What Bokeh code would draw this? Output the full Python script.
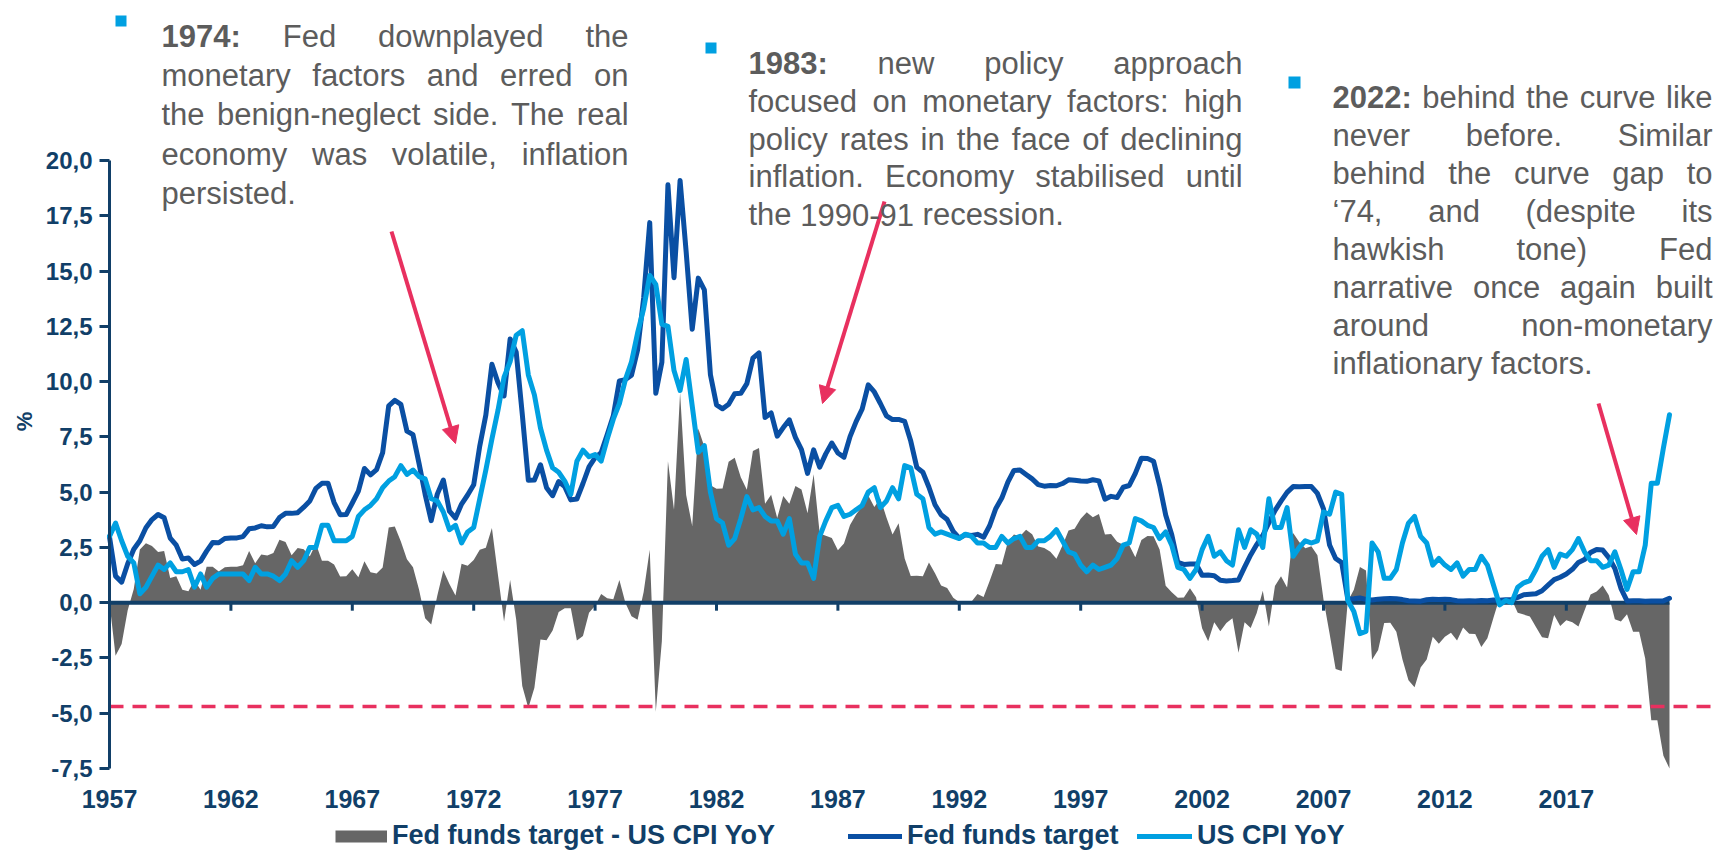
import numpy as np
from bokeh.plotting import figure
from bokeh.models import (Range1d, FixedTicker, Label, Arrow, NormalHead,
                          Legend, LegendItem, BoxAnnotation)
from bokeh.core.properties import value
from bokeh.embed import file_html
from bokeh.resources import INLINE

first_x = 1957.0          # axis position of the first observation
step_x = 0.25             # quarterly

fed_funds = [
    2.98,
    1.20, 0.93, 1.76, 2.42,   2.80, 3.39, 3.76, 3.99,   3.84, 2.92, 2.60, 1.98,
    2.02, 1.73, 1.88, 2.33,   2.72, 2.71, 2.90, 2.93,   2.93, 2.99, 3.34, 3.38,
    3.48, 3.43, 3.45, 3.85,   4.04, 4.04, 4.07, 4.32,   4.60, 5.17, 5.40, 5.40,
    4.53, 3.98, 3.99, 4.51,   5.05, 6.07, 5.78, 6.02,   6.79, 8.90, 9.15, 8.97,
    7.76, 7.60, 6.29, 4.90,   3.71, 4.91, 5.55, 4.14,   3.83, 4.46, 4.87, 5.33,
    7.09, 8.49, 10.78, 9.95,  9.35, 11.93, 11.34, 8.53, 5.54, 5.55, 6.24, 5.20,
    4.84, 5.48, 5.25, 4.65,   4.69, 5.39, 6.14, 6.56,   6.79, 7.60, 8.45, 10.03,
    10.09, 10.29, 11.43, 13.78, 17.19, 9.47, 10.87, 18.90, 14.70, 19.10, 15.87, 12.37,
    14.68, 14.15, 10.31, 8.95, 8.77, 8.98, 9.45, 9.47,  9.91, 11.06, 11.30, 8.38,
    8.58, 7.53, 7.92, 8.27,   7.48, 6.92, 5.85, 6.91,   6.13, 6.73, 7.22, 6.77,
    6.58, 7.51, 8.19, 8.76,   9.85, 9.53, 9.01, 8.45,   8.28, 8.29, 8.20, 7.31,
    6.12, 5.90, 5.22, 4.43,   3.98, 3.76, 3.22, 2.92,   3.07, 3.04, 3.09, 2.96,
    3.48, 4.25, 4.73, 5.45,   5.98, 6.00, 5.80, 5.60,   5.34, 5.27, 5.30, 5.29,
    5.39, 5.56, 5.54, 5.50,   5.49, 5.56, 5.51, 4.68,   4.81, 4.76, 5.22, 5.30,
    5.85, 6.53, 6.52, 6.40,   5.31, 3.97, 3.07, 1.82,   1.73, 1.75, 1.75, 1.24,
    1.25, 1.22, 1.01, 0.98,   1.00, 1.03, 1.61, 2.16,   2.63, 3.04, 3.62, 4.16,
    4.59, 4.99, 5.25, 5.24,   5.26, 5.25, 4.94, 4.24,   2.61, 2.00, 1.81, 0.16,
    0.18, 0.21, 0.15, 0.12,   0.16, 0.18, 0.19, 0.18,   0.14, 0.09, 0.08, 0.07,
    0.13, 0.16, 0.14, 0.16,   0.14, 0.09, 0.08, 0.09,   0.08, 0.10, 0.09, 0.12,
    0.11, 0.13, 0.14, 0.24,   0.36, 0.38, 0.40, 0.54,   0.79, 1.04, 1.15, 1.30,
    1.51, 1.82, 1.95, 2.27,   2.41, 2.38, 2.04, 1.55,   0.65, 0.08, 0.09, 0.09,
    0.07, 0.08, 0.08, 0.08,
    0.20,
]

us_cpi = [
    3.0,
    3.6, 2.8, 2.1, 1.8,   0.4, 0.7, 1.2, 1.7,   1.5, 1.8, 1.4, 1.4,
    1.5, 0.7, 1.3, 0.7,   1.1, 1.3, 1.3, 1.3,   1.3, 1.3, 1.0, 1.6,
    1.3, 1.3, 1.2, 1.0,   1.3, 1.9, 1.6, 1.9,   2.5, 2.5, 3.5, 3.5,
    2.8, 2.8, 2.8, 3.0,   3.9, 4.2, 4.4, 4.7,   5.2, 5.5, 5.7, 6.2,
    5.8, 6.0, 5.7, 5.6,   4.7, 4.6, 4.1, 3.3,   3.5, 2.7, 3.2, 3.4,
    4.7, 6.0, 7.4, 8.7,   10.2, 10.9, 12.1, 12.3, 10.3, 9.4, 7.9, 6.9,
    6.1, 5.9, 5.5, 4.9,   6.4, 6.9, 6.6, 6.7,   6.4, 7.4, 8.3, 9.0,
    10.1, 10.9, 12.2, 13.3, 14.8, 14.4, 12.6, 12.5, 10.5, 9.6, 11.0, 8.9,
    6.8, 7.1, 5.0, 3.8,   3.6, 2.6, 2.9, 3.8,   4.8, 4.2, 4.3, 3.9,
    3.7, 3.7, 3.1, 3.8,   2.2, 1.8, 1.8, 1.1,   3.0, 3.7, 4.3, 4.4,
    3.9, 4.0, 4.2, 4.4,   5.0, 5.2, 4.3, 4.6,   5.2, 4.7, 6.2, 6.1,
    4.9, 4.7, 3.4, 3.1,   3.2, 3.1, 3.0, 2.9,   3.1, 3.0, 2.7, 2.7,
    2.5, 2.5, 3.0, 2.7,   2.9, 3.0, 2.5, 2.5,   2.8, 2.8, 3.0, 3.3,
    2.8, 2.3, 2.2, 1.7,   1.4, 1.7, 1.5, 1.6,   1.7, 2.0, 2.6, 2.7,
    3.8, 3.7, 3.5, 3.4,   2.9, 3.2, 2.6, 1.6,   1.5, 1.1, 1.5, 2.4,
    3.0, 2.1, 2.3, 1.9,   1.7, 3.3, 2.5, 3.3,   3.1, 2.5, 4.7, 3.4,
    3.4, 4.3, 2.1, 2.5,   2.8, 2.7, 2.8, 4.1,   4.0, 5.0, 4.9, 0.1,
    -0.4, -1.4, -1.3, 2.7, 2.3, 1.1, 1.1, 1.5,  2.7, 3.6, 3.9, 3.0,
    2.7, 1.7, 2.0, 1.7,   1.5, 1.8, 1.2, 1.5,   1.5, 2.1, 1.7, 0.8,
    -0.1, 0.1, 0.0, 0.7,  0.9, 1.0, 1.5, 2.1,   2.4, 1.6, 2.2, 2.1,
    2.4, 2.9, 2.3, 1.9,   1.9, 1.6, 1.7, 2.3,   1.5, 0.6, 1.4, 1.4,
    2.6, 5.4, 5.4, 7.0,
    8.5,
]

series_names = ["Fed funds target - US CPI YoY", "Fed funds target", "US CPI YoY"]
x_tick_years = [1957, 1962, 1967, 1972, 1977, 1982, 1987, 1992, 1997, 2002, 2007, 2012, 2017]
x_tick_labels = ["1957", "1962", "1967", "1972", "1977", "1982", "1987", "1992",
                 "1997", "2002", "2007", "2012", "2017"]
y_ticks = [-7.5, -5.0, -2.5, 0.0, 2.5, 5.0, 7.5, 10.0, 12.5, 15.0, 17.5, 20.0]
y_tick_labels = ["-7,5", "-5,0", "-2,5", "0,0", "2,5", "5,0", "7,5", "10,0",
                 "12,5", "15,0", "17,5", "20,0"]
y_axis_title = "%"
alert_level = -4.7

notes = [
    ["1974: Fed downplayed the", "monetary factors and erred on",
     "the benign-neglect side. The real", "economy was volatile, inflation",
     "persisted."],
    ["1983: new policy approach", "focused on monetary factors: high",
     "policy rates in the face of declining", "inflation. Economy stabilised until",
     "the 1990-91 recession."],
    ["2022: behind the curve like", "never before. Similar",
     "behind the curve gap to", "\u201874, and (despite its", "hawkish tone) Fed",
     "narrative once again built", "around non-monetary", "inflationary factors."],
]

# ---------------- styling / layout ----------------
NAVY = "#113F68"
FFR_C = "#0A4FA3"
CPI_C = "#00A0E1"
GRAY = "#666666"
RED = "#E8305F"
TXT = "#5C5C5C"
FONT = "Liberation Sans"

W, H = 1715, 852
AXIS_X = 109          # pixel column of the y axis
DATA_TOP = 160        # pixel row of y = 20
DATA_BOT = 768        # pixel row of y = -7.5
PPX = 24.28           # pixels per axis year
YMIN, YMAX = -7.5, 20.0
PPY = (DATA_BOT - DATA_TOP) / (YMAX - YMIN)


def dx(px):
    return x_tick_years[0] + (px - AXIS_X) / PPX


def dy(py):
    return YMAX - (py - DATA_TOP) / PPY


xs = first_x + step_x * np.arange(len(fed_funds))
ffr_a = np.array(fed_funds, dtype=float)
cpi_a = np.array(us_cpi, dtype=float)
gap = ffr_a - cpi_a
gap_shown = np.clip(gap, YMIN, YMAX)   # the value axis stops at -7.5

# frame covers the whole canvas; axes are pinned at fixed locations inside it
p = figure(width=W, height=H, x_range=Range1d(dx(0), dx(W)), y_range=Range1d(dy(H), dy(0)),
           output_backend="svg", toolbar_location=None,
           min_border_left=0, min_border_right=0, min_border_top=0, min_border_bottom=0)
p.outline_line_color = None
p.grid.visible = False
p.background_fill_color = "white"
p.border_fill_color = "white"

# y axis
ya = p.yaxis[0]
ya.fixed_location = x_tick_years[0]
ya.bounds = (YMIN, YMAX)
ya.ticker = FixedTicker(ticks=y_ticks)
ya.major_label_overrides = {(int(t) if float(t).is_integer() else t): s
                            for t, s in zip(y_ticks, y_tick_labels)}
ya.axis_line_color = NAVY
ya.axis_line_width = 3
ya.major_tick_line_color = NAVY
ya.major_tick_line_width = 3
ya.major_tick_out = 10
ya.major_tick_in = 0
ya.minor_tick_line_color = None
ya.major_label_standoff = 7
ya.major_label_text_font = FONT
ya.major_label_text_font_style = "bold"
ya.major_label_text_font_size = "24px"
ya.major_label_text_color = NAVY

# x axis (labels only, under the data area)
xa = p.xaxis[0]
xa.fixed_location = YMIN
xa.ticker = FixedTicker(ticks=x_tick_years)
xa.major_label_overrides = {t: s for t, s in zip(x_tick_years, x_tick_labels)}
xa.axis_line_color = None
xa.major_tick_line_color = None
xa.major_tick_out = 0
xa.major_tick_in = 0
xa.minor_tick_line_color = None
xa.major_label_standoff = 21
xa.major_label_text_font = FONT
xa.major_label_text_font_style = "bold"
xa.major_label_text_font_size = "25px"
xa.major_label_text_color = NAVY

# y axis title
p.add_layout(Label(x=dx(24), y=dy(421), text=y_axis_title, angle=np.pi / 2,
                   text_align="center", text_baseline="middle", text_font=FONT,
                   text_font_style="bold", text_font_size="22px", text_color=NAVY))

# gap area
p.varea(x=xs, y1=np.zeros_like(gap_shown), y2=gap_shown, fill_color=GRAY, fill_alpha=1.0)

# zero line with ticks
p.segment(x0=[xs[0]], y0=[0], x1=[xs[-1]], y1=[0], line_color=NAVY, line_width=4)
tick_len = 8 / PPY
p.segment(x0=x_tick_years[1:], y0=[0] * (len(x_tick_years) - 1),
          x1=x_tick_years[1:], y1=[-tick_len] * (len(x_tick_years) - 1),
          line_color=NAVY, line_width=3)

r_ffr = p.line(xs, ffr_a, line_color=FFR_C, line_width=5, line_join="round", line_cap="round")
r_cpi = p.line(xs, cpi_a, line_color=CPI_C, line_width=5, line_join="round", line_cap="round")
r_gap_leg = p.line([np.nan], [np.nan], line_color=GRAY, line_width=12, line_cap="butt")

# dashed alert level, from the y axis to the right edge
p.segment(x0=[x_tick_years[0]], y0=[alert_level], x1=[dx(W)], y1=[alert_level],
          line_color=RED, line_width=3.5, line_dash="14 9")

# arrows
for (sx0, sy0, sx1, sy1) in [(391, 231, 455, 443), (884, 201, 822, 403), (1598, 403, 1636, 534)]:
    p.add_layout(Arrow(end=NormalHead(size=17, fill_color=RED, line_color=RED, line_width=1),
                       x_start=dx(sx0), y_start=dy(sy0), x_end=dx(sx1), y_end=dy(sy1),
                       line_color=RED, line_width=4))

# ---------------- justified annotation text ----------------
REG = {' ': 278, '(': 333, ')': 333, ',': 278, '-': 333, '.': 278, ':': 278, '\u2018': 222}
for c in "0123456789":
    REG[c] = 556
REG.update(dict(zip("ABCDEFGHIJKLMNOPQRSTUVWXYZ",
                    [667, 667, 722, 722, 667, 611, 778, 722, 278, 500, 667, 556, 833,
                     722, 778, 667, 778, 722, 667, 611, 722, 667, 944, 667, 667, 611])))
REG.update(dict(zip("abcdefghijklmnopqrstuvwxyz",
                    [556, 556, 500, 556, 556, 278, 556, 556, 222, 222, 500, 222, 833,
                     556, 556, 556, 556, 333, 500, 278, 556, 500, 722, 500, 500, 500])))
BOLD = dict(REG)
BOLD[':'] = 333

FS = 31


def wwidth(word, bold):
    tbl = BOLD if bold else REG
    return sum(tbl.get(c, 556) for c in word) / 1000.0 * FS


blocks = [
    dict(left=161, right=628, base=36.0, step=39.2, bullet=(115, 15, 11)),
    dict(left=748, right=1242, base=62.7, step=37.9, bullet=(705, 42, 11)),
    dict(left=1332, right=1712, base=96.7, step=38.1, bullet=(1288, 76, 12)),
]

for blk, lines in zip(blocks, notes):
    bx, by, bs = blk["bullet"]
    p.add_layout(BoxAnnotation(left=dx(bx), right=dx(bx + bs), top=dy(by), bottom=dy(by + bs),
                               fill_color=CPI_C, fill_alpha=1.0, line_color=None))
    for i, line in enumerate(lines):
        words = line.split(" ")
        bolds = [(i == 0 and j == 0) for j in range(len(words))]
        widths = [wwidth(w, b) for w, b in zip(words, bolds)]
        box = blk["right"] - blk["left"]
        if i < len(lines) - 1 and len(words) > 1:
            g = (box - sum(widths)) / (len(words) - 1)
        else:
            g = REG[' '] / 1000.0 * FS
        xcur = blk["left"]
        ybase = blk["base"] + i * blk["step"]
        for w, b, wd in zip(words, bolds, widths):
            p.add_layout(Label(x=dx(xcur), y=dy(ybase), text=w, text_align="left",
                               text_baseline="alphabetic", text_font=FONT,
                               text_font_style="bold" if b else "normal",
                               text_font_size=f"{FS}px", text_color=TXT))
            xcur += wd + g

# ---------------- legend ----------------
LEG_CENTER = 836
item_h = 30
for r, name, gx, gw in [(r_gap_leg, series_names[0], 335, 52),
                        (r_ffr, series_names[1], 848, 54),
                        (r_cpi, series_names[2], 1137, 55)]:
    lg = Legend(items=[LegendItem(label=value(name), renderers=[r])],
                location=(gx, H - LEG_CENTER - item_h / 2), orientation="horizontal",
                glyph_width=gw, glyph_height=item_h, label_height=item_h, label_standoff=5,
                padding=0, margin=0, spacing=0, border_line_color=None,
                background_fill_alpha=0.0, label_text_font=FONT,
                label_text_font_style="bold", label_text_font_size="27px",
                label_text_color=NAVY)
    p.add_layout(lg)

open("out.html", "w").write(file_html(p, INLINE))
